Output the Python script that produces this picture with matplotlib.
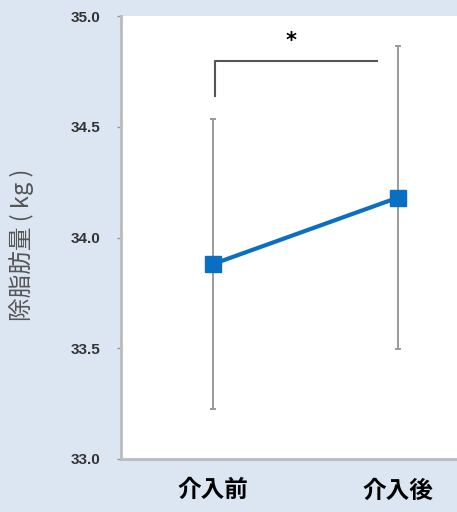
import matplotlib
matplotlib.use("Agg")
import matplotlib.pyplot as plt

plt.rcParams['font.family'] = ['Noto Sans CJK JP', 'DejaVu Sans']

# group labels and values (mean ± SD)
groups = ["介入前", "介入後"]
means = [33.88, 34.18]
sds = [0.655, 0.683]
yticks = [33.0, 33.5, 34.0, 34.5, 35.0]

# significance bracket between the groups
bracket_x = [0.01, 0.01, 0.886]
bracket_y = [34.638, 34.796, 34.796]
star_pos = (0.42, 34.887)

fig = plt.figure(figsize=(4.57, 5.12), dpi=100)
fig.patch.set_facecolor("#dce6f2")
ax = fig.add_axes([121 / 457, 1 - 459 / 512, 1 - 121 / 457, (459 - 16) / 512])
ax.set_facecolor("white")

xs = list(range(len(groups)))
ax.errorbar(xs, means, yerr=sds, fmt="none", ecolor="#999999", elinewidth=1.4,
            capsize=2.5, capthick=1.4, zorder=2)
ax.plot(xs, means, color="#0a6fc2", lw=3, marker="s", markersize=12,
        markerfacecolor="#0a6fc2", markeredgecolor="#0a6fc2", zorder=3)

ax.plot(bracket_x, bracket_y, color="#555555", lw=1.5, zorder=2)
ax.text(star_pos[0], star_pos[1], "*", ha="center", va="center",
        fontsize=15, fontweight="bold", color="black", family="DejaVu Sans")

ax.set_xlim(-0.497, 1.32)
ax.set_ylim(33.0, 35.0)
ax.set_yticks(yticks)
ax.set_yticklabels([f"{v:.1f}" for v in yticks], family="Liberation Sans",
                   fontsize=11, fontweight="bold", color="#333333")
ax.set_xticks(xs)
ax.set_xticklabels(groups, fontsize=17, fontweight="bold", color="black")
ax.tick_params(axis="x", length=0, pad=14)
ax.tick_params(axis="y", length=3, width=1, color="#999999", pad=12)

for s in ["top", "right"]:
    ax.spines[s].set_visible(False)
for s in ["left", "bottom"]:
    ax.spines[s].set_color("#bbbbbb")
    ax.spines[s].set_linewidth(2)

fig.text(22 / 457, 1 - 245 / 512, "除脂肪量 ( kg )", rotation=90, ha="center",
         va="center", fontsize=17, color="#555555")

fig.savefig("out.png", dpi=100, facecolor=fig.get_facecolor())
